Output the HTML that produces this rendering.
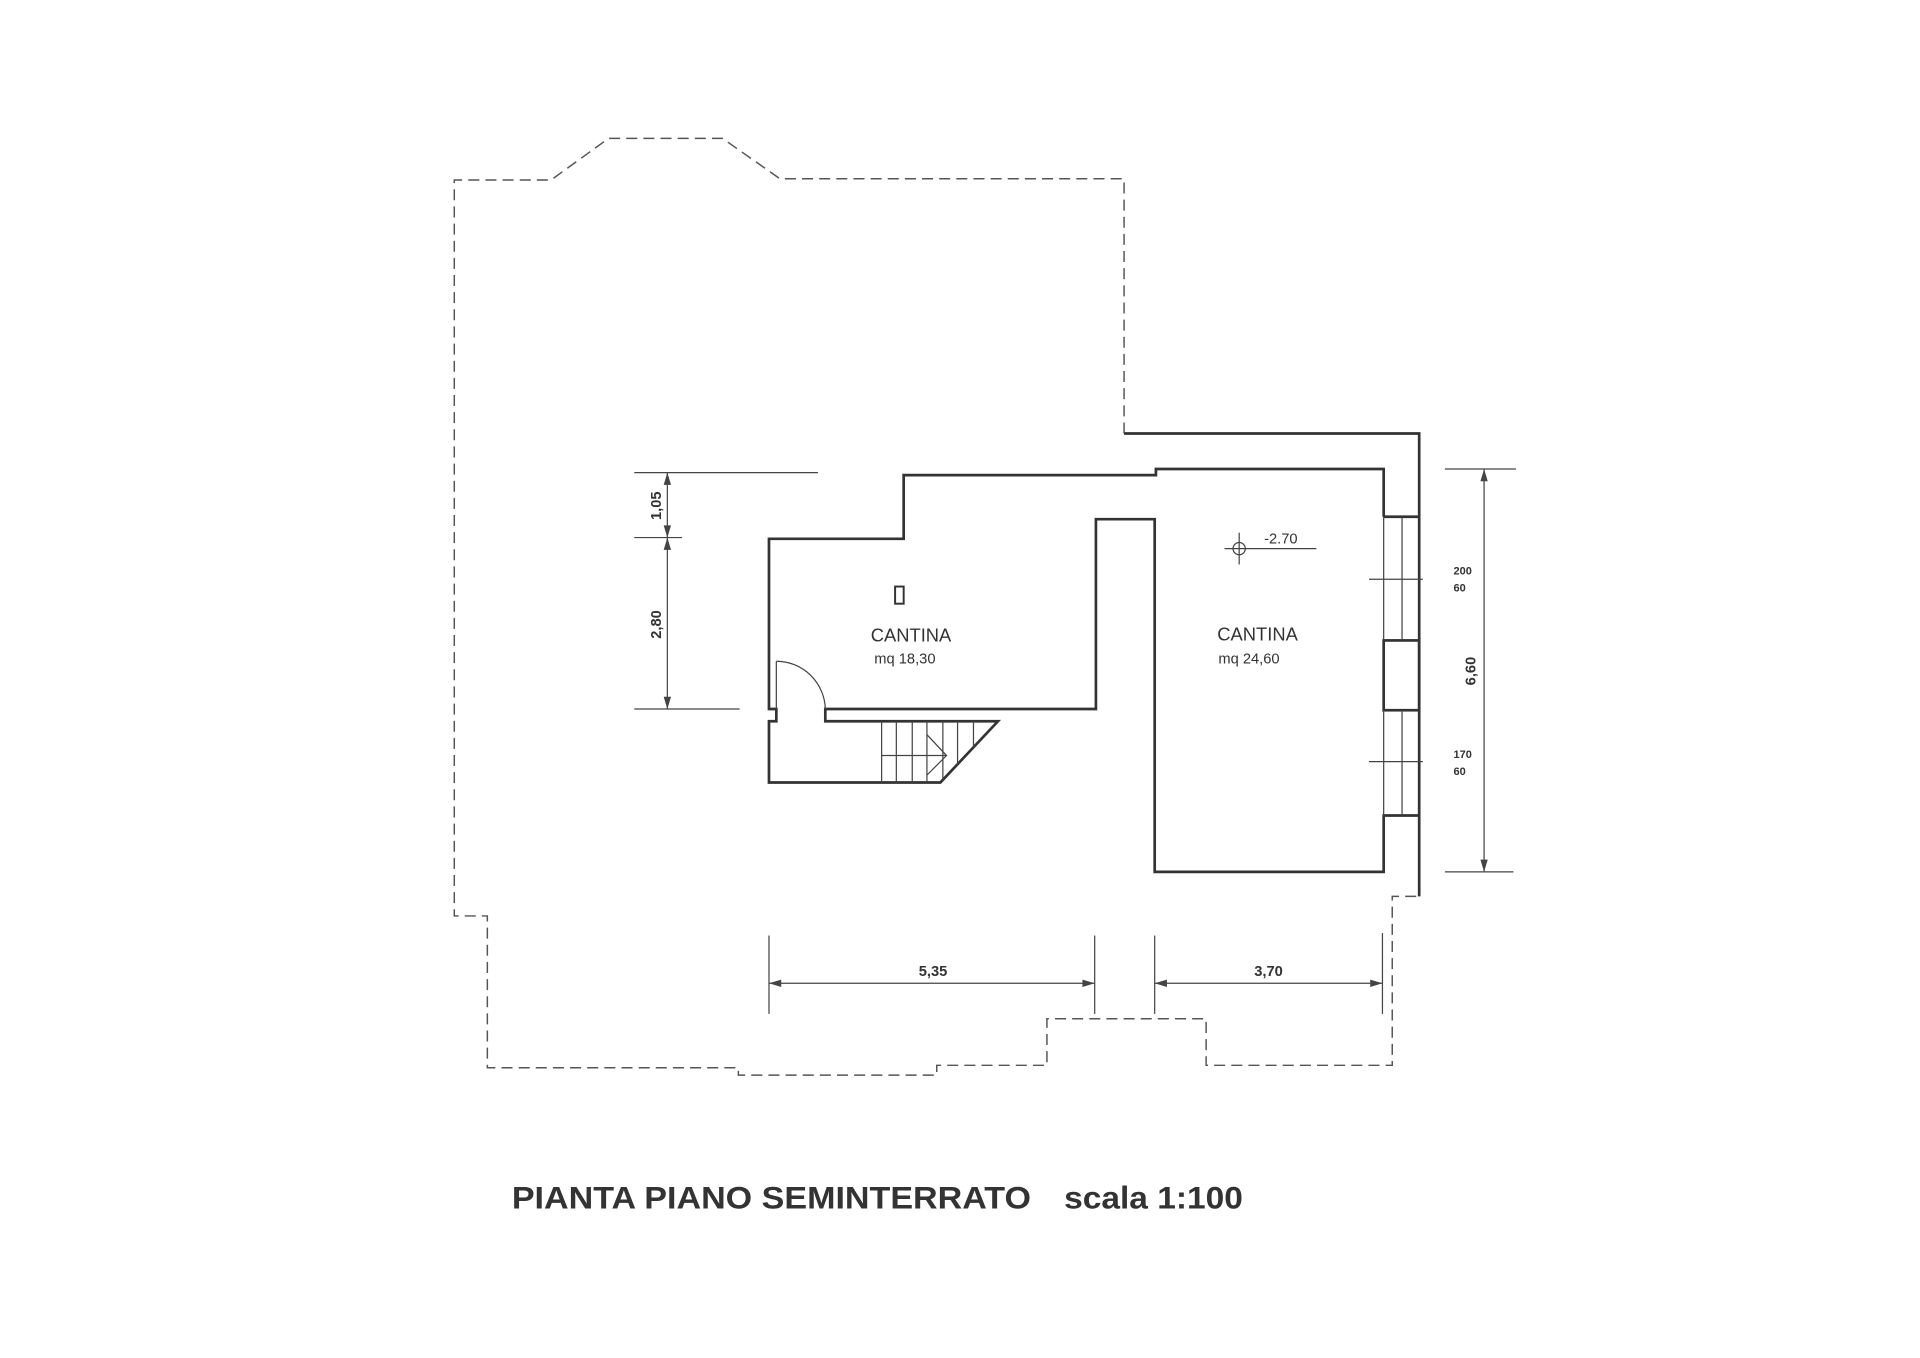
<!DOCTYPE html>
<html><head><meta charset="utf-8"><style>
html,body{margin:0;padding:0;background:#fff;}
svg{display:block;}
text{font-family:"Liberation Sans",Arial,sans-serif;fill:#333;}
</style></head><body>
<svg width="1920" height="1358" viewBox="0 0 1568 1109" xmlns="http://www.w3.org/2000/svg">
<rect width="1568" height="1109" fill="#fff"/>
<!-- dashed outer outline -->
<g fill="none" stroke="#555" stroke-width="1.2" stroke-dasharray="9,5">
<polyline points="918,354 918,146 637,146 590,113 497,113 450,147 371,147 371,748 398,748 398,872 603,872 603,878 765,878 765,870 855,870 855,832 985,832 985,870 1137,870 1137,732 1159,732"/>
</g>
<!-- solid walls -->
<g fill="none" stroke="#333" stroke-width="2.2">
<polyline points="918,354 1159,354 1159,732"/>
<polyline points="1130,422 1130,383 944,383 944,388 738,388 738,440 628,440 628,579 634,579 634,589 628,589 628,639 768,639 815,589 674,589 674,579 895,579 895,424 943,424 943,712 1130,712 1130,666 1159,666"/>
<line x1="1130" y1="422" x2="1159" y2="422"/>
<rect x="1130" y="523" width="29" height="57"/>
<rect x="731" y="479" width="7" height="14" stroke-width="1.6"/>
</g>
<!-- windows / stairs / door thin -->
<g fill="none" stroke="#444" stroke-width="1">
<line x1="1130" y1="422" x2="1130" y2="523"/><line x1="1145" y1="422" x2="1145" y2="523"/>
<line x1="1130" y1="580" x2="1130" y2="666"/><line x1="1145" y1="580" x2="1145" y2="666"/>
<line x1="1118" y1="473" x2="1162" y2="473"/><line x1="1118" y1="622" x2="1162" y2="622"/>
<line x1="720" y1="589" x2="720" y2="639"/><line x1="732" y1="589" x2="732" y2="639"/>
<line x1="745" y1="589" x2="745" y2="639"/><line x1="757" y1="589" x2="757" y2="639"/>
<line x1="770" y1="589" x2="770" y2="637"/><line x1="782" y1="589" x2="782" y2="624"/>
<line x1="795" y1="589" x2="795" y2="611"/>
<line x1="720" y1="617" x2="773" y2="617"/>
<polyline points="757,600 773,617 757,633"/>
<path d="M634,540 A40,40 0 0 1 674,579"/>
<line x1="634" y1="540" x2="634" y2="579"/>
<!-- level marker -->
<circle cx="1012" cy="448" r="5"/>
<line x1="1000" y1="448" x2="1075" y2="448"/><line x1="1012" y1="435" x2="1012" y2="461"/>
<!-- dimensions -->
<line x1="518" y1="386" x2="668" y2="386"/>
<line x1="518" y1="439" x2="557" y2="439"/>
<line x1="518" y1="579" x2="604" y2="579"/>
<line x1="545" y1="386" x2="545" y2="579"/>
<line x1="1180" y1="383" x2="1238" y2="383"/>
<line x1="1180" y1="712" x2="1236" y2="712"/>
<line x1="1212" y1="383" x2="1212" y2="712"/>
<line x1="628" y1="764" x2="628" y2="828"/>
<line x1="894" y1="764" x2="894" y2="828"/>
<line x1="943" y1="764" x2="943" y2="828"/>
<line x1="1129" y1="762" x2="1129" y2="828"/>
<line x1="628" y1="803" x2="894" y2="803"/>
<line x1="943" y1="803" x2="1129" y2="803"/>
</g>
<g fill="#444">
<polygon points="545,386 542,396 548,396"/><polygon points="545,439 542,429 548,429"/>
<polygon points="545,439 542,449 548,449"/><polygon points="545,579 542,569 548,569"/>
<polygon points="1212,383 1209,393 1215,393"/><polygon points="1212,712 1209,702 1215,702"/>
<polygon points="628,803 638,800 638,806"/><polygon points="894,803 884,800 884,806"/>
<polygon points="943,803 953,800 953,806"/><polygon points="1129,803 1119,800 1119,806"/>
</g>
<!-- labels -->
<text x="744" y="524" font-size="15" text-anchor="middle">CANTINA</text>
<text x="739" y="542" font-size="12" text-anchor="middle">mq  18,30</text>
<text x="1027" y="523" font-size="15" text-anchor="middle">CANTINA</text>
<text x="1020" y="542" font-size="12" text-anchor="middle">mq  24,60</text>
<text x="1046" y="444" font-size="12" text-anchor="middle">-2.70</text>
<text x="1187" y="469" font-size="9" font-weight="bold">200</text>
<text x="1187" y="483" font-size="9" font-weight="bold">60</text>
<text x="1187" y="619" font-size="9" font-weight="bold">170</text>
<text x="1187" y="633" font-size="9" font-weight="bold">60</text>
<text x="762" y="797" font-size="12" font-weight="bold" text-anchor="middle">5,35</text>
<text x="1036" y="797" font-size="12" font-weight="bold" text-anchor="middle">3,70</text>
<text transform="translate(540,413) rotate(-90)" font-size="12" font-weight="bold" text-anchor="middle">1,05</text>
<text transform="translate(540,510) rotate(-90)" font-size="12" font-weight="bold" text-anchor="middle">2,80</text>
<text transform="translate(1205,548) rotate(-90)" font-size="12" font-weight="bold" text-anchor="middle">6,60</text>
<text x="418" y="987" font-size="26" font-weight="bold" textLength="424" lengthAdjust="spacingAndGlyphs">PIANTA PIANO SEMINTERRATO</text>
<text x="869" y="987" font-size="26" font-weight="bold" textLength="146" lengthAdjust="spacingAndGlyphs">scala 1:100</text>
</svg>
</body></html>
